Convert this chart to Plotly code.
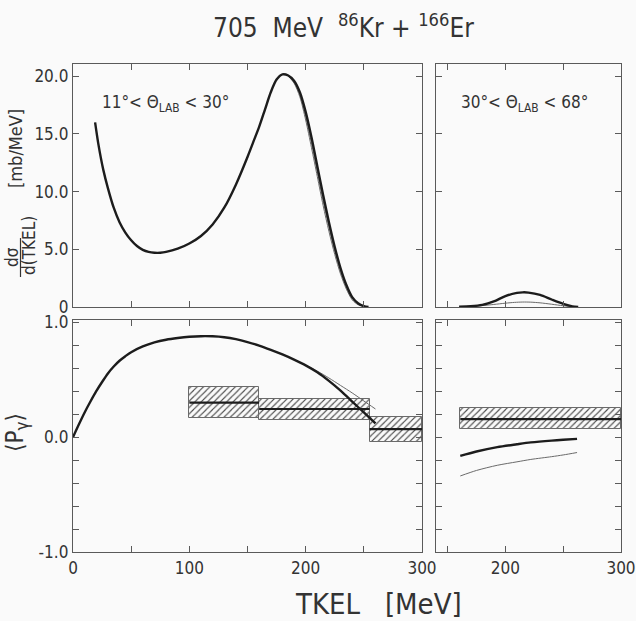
import plotly.graph_objects as go

# ---- data -------------------------------------------------------------
# cross section dsigma/d(TKEL) [mb/MeV], 11 deg < theta_lab < 30 deg
xs_fwd_tkel = [19, 22, 26, 30, 35, 40, 45, 50, 55, 60, 65, 70, 75, 80, 90, 100, 110,
               120, 130, 140, 150, 155, 160, 165, 170, 175, 180, 185, 190, 195, 200,
               205, 210, 215, 220, 225, 230, 235, 240, 245, 250, 254]
xs_fwd_calc = [16.0, 14.0, 11.9, 10.3, 8.6, 7.35, 6.45, 5.78, 5.28, 4.95, 4.77, 4.7,
               4.7, 4.77, 5.05, 5.5, 6.15, 7.15, 8.6, 10.6, 13.0, 14.3, 15.6, 17.1,
               18.6, 19.7, 20.15, 20.05, 19.6, 18.6, 16.9, 14.7, 12.2, 9.7, 7.35,
               5.2, 3.35, 1.9, 0.85, 0.32, 0.08, 0.0]
# alternative calculations (thin lines), falling edge
xs_fwd_alt_tkel = [185, 190, 195, 200, 205, 210, 215, 220, 225, 230, 235, 240, 245, 250]
xs_fwd_alt_a = [20.0, 19.5, 18.4, 16.5, 14.2, 11.7, 9.2, 6.95, 4.85, 3.1, 1.72, 0.75, 0.26, 0.05]
xs_fwd_alt_b = [20.0, 19.4, 18.2, 16.2, 13.8, 11.3, 8.8, 6.55, 4.55, 2.85, 1.55, 0.62, 0.2, 0.03]

# cross section, 30 deg < theta_lab < 68 deg
xs_bwd_tkel = [160, 170, 180, 190, 200, 210, 215, 220, 230, 240, 250, 258, 263]
xs_bwd_calc = [0.02, 0.06, 0.18, 0.48, 0.95, 1.22, 1.27, 1.25, 1.05, 0.65, 0.28, 0.06, 0.01]
xs_bwd_alt_tkel = [160, 170, 180, 190, 200, 208, 215, 222, 230, 240, 250, 258]
xs_bwd_alt = [0.01, 0.05, 0.12, 0.22, 0.33, 0.40, 0.43, 0.42, 0.36, 0.24, 0.11, 0.03]

# mean gamma polarisation <P_gamma>, forward angles
pg_fwd_tkel = [0, 5, 10, 15, 20, 25, 30, 35, 40, 45, 50, 60, 70, 80, 90, 100, 110, 120,
               130, 140, 150, 160, 170, 180, 190, 200, 210, 220, 230, 240, 250, 260]
pg_fwd_calc = [0.0, 0.11, 0.215, 0.31, 0.4, 0.48, 0.555, 0.615, 0.665, 0.705, 0.74,
               0.79, 0.825, 0.848, 0.863, 0.874, 0.879, 0.878, 0.87, 0.853, 0.828,
               0.797, 0.76, 0.72, 0.675, 0.625, 0.565, 0.49, 0.405, 0.31, 0.215, 0.12]
pg_fwd_alt_tkel = [200, 210, 220, 230, 240, 250, 260]
pg_fwd_alt = [0.625, 0.575, 0.515, 0.45, 0.385, 0.315, 0.245]

# measured <P_gamma> bins (forward)
pg_fwd_bin_lo = [100, 160, 255]
pg_fwd_bin_hi = [160, 255, 300]
pg_fwd_mean = [0.30, 0.245, 0.07]
pg_fwd_low = [0.17, 0.15, -0.045]
pg_fwd_high = [0.435, 0.335, 0.175]

# <P_gamma>, backward angles
pg_bwd_tkel = [161, 175, 193, 210, 222, 240, 250, 262]
pg_bwd_calc = [-0.163, -0.125, -0.087, -0.062, -0.046, -0.03, -0.023, -0.015]
pg_bwd_alt = [-0.338, -0.29, -0.245, -0.215, -0.194, -0.17, -0.155, -0.134]
pg_bwd_bin_lo = [161]
pg_bwd_bin_hi = [300]
pg_bwd_mean = [0.157]
pg_bwd_low = [0.07]
pg_bwd_high = [0.253]

# axis ticks
x_ticks_full = [0, 50, 100, 150, 200, 250, 300]
x_text_full = ["0", "", "100", "", "200", "", "300"]
x_ticks_right = [150, 200, 250, 300]
x_text_right = ["", "200", "", "300"]
y_ticks_xs = [0, 5, 10, 15, 20]
y_text_xs = ["0", "5.0", "10.0", "15.0", "20.0"]
y_ticks_pg = [-1.0, -0.8, -0.6, -0.4, -0.2, 0.0, 0.2, 0.4, 0.6, 0.8, 1.0]
y_text_pg = ["-1.0", "", "", "", "", "0.0", "", "", "", "", "1.0"]

# ---- style ------------------------------------------------------------
W, H = 636, 621
ML, MR, MT, MB = 73, 15, 64, 69
FONT = "Liberation Sans Narrow, Arial Narrow, DejaVu Sans Condensed, Liberation Sans, sans-serif"
INK = "#333333"
FRAME = "#5a5a5a"
BG = "#fafafa"
THICK = dict(color="#1c1c1c", width=2.4)
THIN = dict(color="#6a6a6a", width=1.0)


def px(xp):
    return (xp - ML) / (W - ML - MR)


def py(yp):
    return (H - MB - yp) / (H - MT - MB)


fig = go.Figure()


def curve(x, y, xa, ya, line):
    fig.add_trace(go.Scatter(x=x, y=y, xaxis=xa, yaxis=ya, mode="lines",
                             line=dict(shape="spline", smoothing=0.8, **line),
                             hoverinfo="skip", showlegend=False))


def hatched(lo, hi, low, high, mean, xa, ya):
    fig.add_trace(go.Bar(
        x=[(a + b) / 2 for a, b in zip(lo, hi)],
        width=[b - a for a, b in zip(lo, hi)],
        base=low,
        y=[h - l for l, h in zip(low, high)],
        xaxis=xa, yaxis=ya, showlegend=False, hoverinfo="skip",
        marker=dict(color=BG, line=dict(color="#6a6a6a", width=1),
                    pattern=dict(shape="/", size=4.5, solidity=0.25,
                                 fgcolor="#4a4a4a", bgcolor=BG, fillmode="replace")),
    ))
    xs, ys = [], []
    for a, b, m in zip(lo, hi, mean):
        xs += [a, b, None]
        ys += [m, m, None]
    fig.add_trace(go.Scatter(x=xs, y=ys, xaxis=xa, yaxis=ya, mode="lines",
                             line=dict(color="#1c1c1c", width=2.2),
                             hoverinfo="skip", showlegend=False))


# top left: forward cross section
curve(xs_fwd_alt_tkel, xs_fwd_alt_b, "x", "y", THIN)
curve(xs_fwd_alt_tkel, xs_fwd_alt_a, "x", "y", THIN)
curve(xs_fwd_tkel, xs_fwd_calc, "x", "y", THICK)

# top right: backward cross section
curve(xs_bwd_alt_tkel, xs_bwd_alt, "x2", "y2", THIN)
curve(xs_bwd_tkel, xs_bwd_calc, "x2", "y2", THICK)

# bottom left: forward polarisation
hatched(pg_fwd_bin_lo, pg_fwd_bin_hi, pg_fwd_low, pg_fwd_high, pg_fwd_mean, "x3", "y3")
curve(pg_fwd_alt_tkel, pg_fwd_alt, "x3", "y3", THIN)
curve(pg_fwd_tkel, pg_fwd_calc, "x3", "y3", THICK)

# bottom right: backward polarisation
hatched(pg_bwd_bin_lo, pg_bwd_bin_hi, pg_bwd_low, pg_bwd_high, pg_bwd_mean, "x4", "y4")
curve(pg_bwd_tkel, pg_bwd_alt, "x4", "y4", THIN)
curve(pg_bwd_tkel, pg_bwd_calc, "x4", "y4", THICK)

axis_common = dict(showline=True, linecolor=FRAME, linewidth=1.3, mirror="ticks",
                   ticks="inside", ticklen=6, tickwidth=1.2, tickcolor=FRAME,
                   showgrid=False, zeroline=False, fixedrange=True, automargin=False,
                   ticklabeloverflow="allow",
                   tickfont=dict(family=FONT, size=17, color=INK))

x_left = [0, px(422)]
x_right = [px(436), 1]
y_top = [py(307), 1]
y_bot = [0, py(320)]

fig.update_layout(
    width=W, height=H,
    margin=dict(l=ML, r=MR, t=MT, b=MB, autoexpand=False),
    paper_bgcolor=BG, plot_bgcolor=BG,
    barmode="overlay", bargap=0,
    font=dict(family=FONT, color=INK),
    xaxis=dict(axis_common, domain=x_left, range=[0, 300], anchor="y",
               tickvals=x_ticks_full, showticklabels=False),
    yaxis=dict(axis_common, domain=y_top, range=[0, 21.05], anchor="x",
               tickvals=y_ticks_xs, ticktext=y_text_xs),
    xaxis2=dict(axis_common, domain=x_right, range=[140, 300], anchor="y2",
                tickvals=x_ticks_right, showticklabels=False),
    yaxis2=dict(axis_common, domain=y_top, range=[0, 21.05], anchor="x2",
                tickvals=y_ticks_xs, showticklabels=False),
    xaxis3=dict(axis_common, domain=x_left, range=[0, 300], anchor="y3",
                tickvals=x_ticks_full, ticktext=x_text_full),
    yaxis3=dict(axis_common, domain=y_bot, range=[-1.0, 1.02], anchor="x3",
                tickvals=y_ticks_pg, ticktext=y_text_pg),
    xaxis4=dict(axis_common, domain=x_right, range=[140, 300], anchor="y4",
                tickvals=x_ticks_right, ticktext=x_text_right),
    yaxis4=dict(axis_common, domain=y_bot, range=[-1.0, 1.02], anchor="x4",
                tickvals=y_ticks_pg, showticklabels=False),
)


def label(text, xp, yp, size, angle=0):
    fig.add_annotation(text=text, x=px(xp), y=py(yp), xref="paper", yref="paper",
                       showarrow=False, textangle=angle, xanchor="center",
                       yanchor="middle", font=dict(family=FONT, size=size, color=INK))


label("705  MeV  <sup>86</sup>Kr + <sup>166</sup>Er", 343, 26, 26)
label("11°< Θ<sub>LAB</sub> < 30°", 165, 103, 17)
label("30°< Θ<sub>LAB</sub> < 68°", 524, 103, 17)
label("[mb/MeV]", 15, 149, 18, -90)
label("dσ", 12, 257, 17, -90)
label("d(TKEL)", 29, 246, 17, -90)
label("⟨P<sub>γ</sub>⟩", 16, 433, 24, -90)
label("TKEL   [MeV]", 378, 604, 29)

# fraction bar of the cross-section axis title
fig.add_shape(type="line", xref="paper", yref="paper",
              x0=px(20.5), x1=px(20.5), y0=py(238), y1=py(277),
              line=dict(color=INK, width=1.2))

fig.write_html("out.html")
